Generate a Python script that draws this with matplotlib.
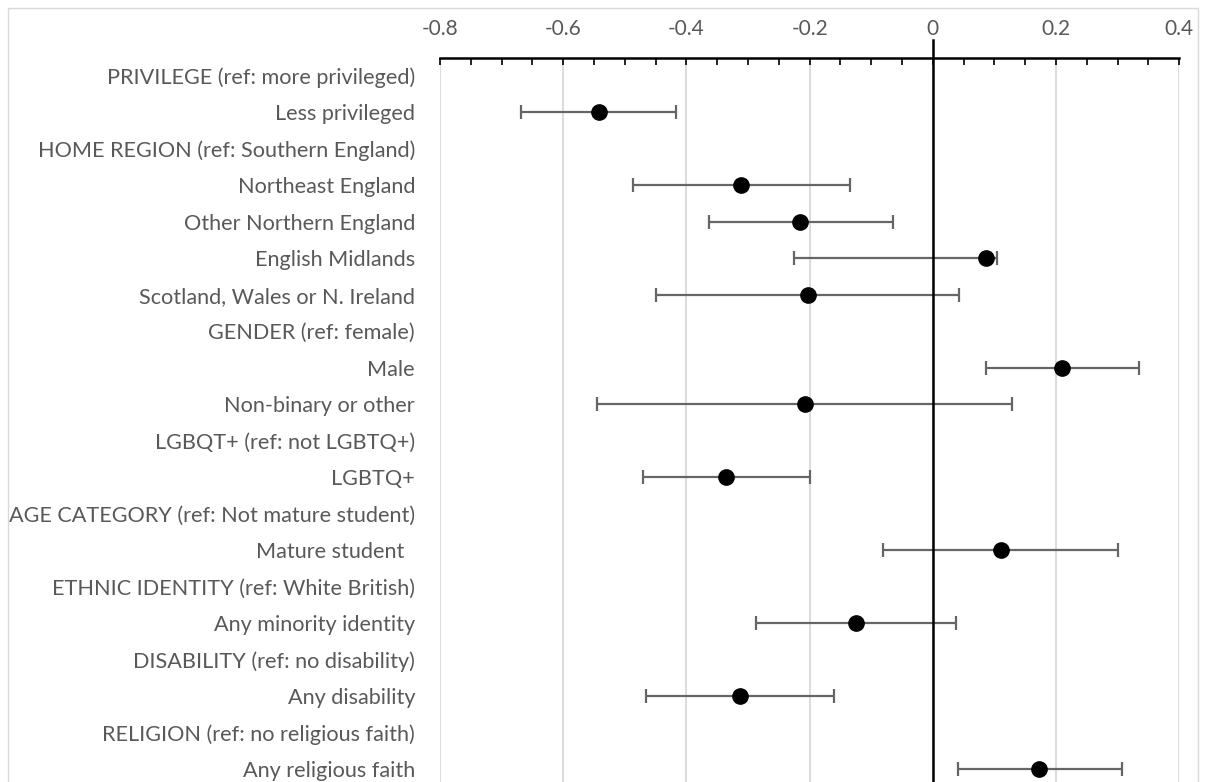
import numpy as np
import matplotlib.pyplot as plt
from matplotlib.patches import Rectangle
from matplotlib.ticker import MultipleLocator

# Categories (group headers have no estimate)
labels = [
    'PRIVILEGE (ref: more privileged)',
    'Less privileged',
    'HOME REGION (ref: Southern England)',
    'Northeast England',
    'Other Northern England',
    'English Midlands',
    'Scotland, Wales or N. Ireland',
    'GENDER (ref: female)',
    'Male',
    'Non-binary or other',
    'LGBQT+ (ref: not LGBTQ+)',
    'LGBTQ+',
    'AGE CATEGORY (ref: Not mature student)',
    'Mature student  ',
    'ETHNIC IDENTITY (ref: White British)',
    'Any minority identity',
    'DISABILITY (ref: no disability)',
    'Any disability',
    'RELIGION (ref: no religious faith)',
    'Any religious faith',
]
estimate = [np.nan, -0.542, np.nan, -0.311, -0.215, 0.086, -0.203, np.nan, 0.209, -0.208,
            np.nan, -0.335, np.nan, 0.110, np.nan, -0.125, np.nan, -0.313, np.nan, 0.173]
ci_low = [np.nan, -0.669, np.nan, -0.486, -0.364, -0.225, -0.449, np.nan, 0.087, -0.545,
          np.nan, -0.470, np.nan, -0.081, np.nan, -0.287, np.nan, -0.465, np.nan, 0.040]
ci_high = [np.nan, -0.417, np.nan, -0.135, -0.064, 0.104, 0.043, np.nan, 0.334, 0.128,
           np.nan, -0.200, np.nan, 0.301, np.nan, 0.037, np.nan, -0.161, np.nan, 0.307]

tick_values = [-0.8, -0.6, -0.4, -0.2, 0, 0.2, 0.4]
tick_labels = ['-0.8', '-0.6', '-0.4', '-0.2', '0', '0.2', '0.4']

plt.rcParams['font.family'] = ['Lato', 'DejaVu Sans']
text_gray = '#595959'

W, H = 1206, 782
fig = plt.figure(figsize=(W / 100, H / 100), dpi=100)
ax = fig.add_axes([440 / W, 0, (1179.3 - 440) / W, 724 / H])

est = np.array(estimate)
lo = np.array(ci_low)
hi = np.array(ci_high)
y = np.arange(len(labels))

ax.errorbar(est, y, xerr=[est - lo, hi - est], fmt='o', color='black',
            markersize=11, ecolor='#666666', elinewidth=1.6, capsize=5, capthick=1.6,
            zorder=3)

# vertical line at zero, poking above the axis line
ax.axvline(0, ymin=0, ymax=1.025, color='black', lw=1.8, clip_on=False, zorder=4)

ax.set_xlim(-0.8, 0.4)
ax.set_ylim(19.356, -0.488)

ax.xaxis.tick_top()
ax.set_xticks(tick_values, tick_labels)
ax.xaxis.set_minor_locator(MultipleLocator(0.05))
ax.tick_params(axis='x', which='both', direction='in', length=5, width=1.2,
               color='black', labelsize=15, labelcolor=text_gray, pad=14)
ax.grid(axis='x', which='major', color='#d9d9d9', lw=1.3, zorder=0)

ax.set_yticks(y, labels)
ax.tick_params(axis='y', length=0, pad=18, labelsize=15.6, labelcolor=text_gray)

for side in ['left', 'right', 'bottom']:
    ax.spines[side].set_visible(False)
ax.spines['top'].set_linewidth(1.8)

# chart border
fig.patches.append(Rectangle((8 / W, -0.1), (1198 - 8) / W, 1.1 - 8 / H,
                             transform=fig.transFigure, fill=False,
                             edgecolor='#d9d9d9', lw=1))

fig.savefig('out.png', dpi=100)
